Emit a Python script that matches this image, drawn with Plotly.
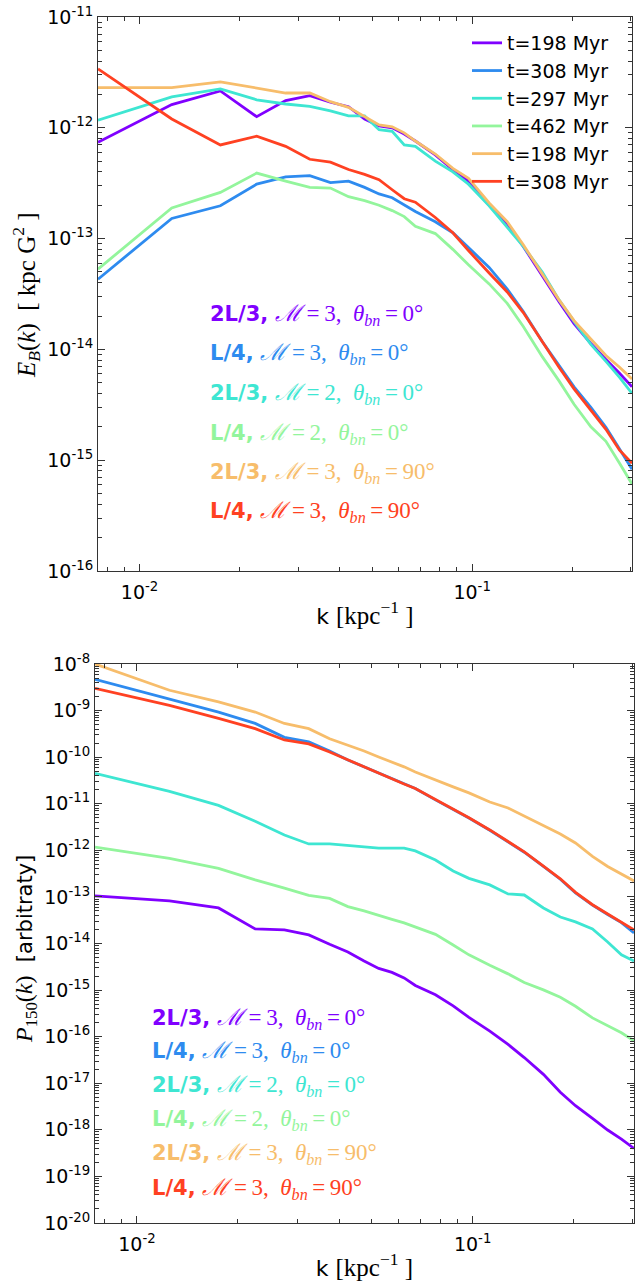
import plotly.graph_objects as go

# ---------------- data ----------------
k = [0.0075, 0.0125, 0.0175, 0.0225, 0.0275, 0.0325, 0.0375, 0.0425, 0.0475,
     0.0525, 0.0575, 0.0625, 0.0675, 0.0775, 0.0875, 0.0975, 0.1125, 0.1275,
     0.1425, 0.1625, 0.1825, 0.2025, 0.2275, 0.2525, 0.2775, 0.3025]

legend_names = ["t=198 Myr", "t=308 Myr", "t=297 Myr", "t=462 Myr", "t=198 Myr", "t=308 Myr"]
run_box = ["2L/3,", "L/4,", "2L/3,", "L/4,", "2L/3,", "L/4,"]
run_mach = ["3", "3", "2", "2", "3", "3"]
run_theta = ["0", "0", "0", "0", "90", "90"]

# tick labels (decade exponents)
x_tick_exp = [-2, -1]
eb_tick_exp = [-16, -15, -14, -13, -12, -11]
p_tick_exp = [-20, -19, -18, -17, -16, -15, -14, -13, -12, -11, -10, -9, -8]

# top panel: E_B(k)  [kpc G^2]
eb_purple = [7.4e-13, 1.62e-12, 2.15e-12, 1.26e-12, 1.76e-12, 1.95e-12, 1.70e-12, 1.55e-12, 1.2e-12,
             1.04e-12, 1.0e-12, 8.8e-13, 7.6e-13, 5.7e-13, 4.2e-13, 3.3e-13, 2.0e-13, 1.36e-13,
             8.5e-14, 4.6e-14, 2.7e-14, 1.71e-14, 1.13e-14, 8.1e-15, 6.1e-15, 4.6e-15]
eb_blue = [4.3e-14, 1.52e-13, 1.98e-13, 3.1e-13, 3.6e-13, 3.7e-13, 3.2e-13, 3.3e-13, 2.9e-13,
           2.53e-13, 2.34e-13, 2.0e-13, 1.76e-13, 1.42e-13, 1.13e-13, 8.3e-14, 5.5e-14, 3.5e-14,
           2.2e-14, 1.18e-14, 7.2e-15, 4.6e-15, 3.0e-15, 1.98e-15, 1.26e-15, 8.3e-16]
eb_cyan = [1.17e-12, 1.9e-12, 2.24e-12, 1.79e-12, 1.64e-12, 1.56e-12, 1.42e-12, 1.28e-12, 1.28e-12,
           9.6e-13, 9.3e-13, 7.0e-13, 6.8e-13, 5.0e-13, 4.0e-13, 3.1e-13, 1.98e-13, 1.26e-13,
           8.5e-14, 5.0e-14, 2.8e-14, 1.79e-14, 1.11e-14, 7.8e-15, 5.6e-15, 4.0e-15]
eb_green = [5.3e-14, 1.89e-13, 2.61e-13, 3.9e-13, 3.3e-13, 2.9e-13, 2.86e-13, 2.39e-13, 2.2e-13,
            2.0e-13, 1.79e-13, 1.58e-13, 1.29e-13, 1.11e-13, 8.0e-14, 5.8e-14, 3.9e-14, 2.6e-14,
            1.61e-14, 8.6e-15, 5.2e-15, 3.2e-15, 2.0e-15, 1.48e-15, 9.4e-16, 6.1e-16]
eb_orange = [2.3e-12, 2.3e-12, 2.6e-12, 2.28e-12, 2.06e-12, 2.06e-12, 1.72e-12, 1.53e-12, 1.26e-12,
             1.06e-12, 1.02e-12, 9.0e-13, 7.6e-13, 5.8e-13, 4.3e-13, 3.5e-13, 2.1e-13, 1.42e-13,
             8.8e-14, 4.8e-14, 2.8e-14, 1.82e-14, 1.23e-14, 8.8e-15, 6.9e-15, 5.4e-15]
eb_red = [3.4e-12, 1.2e-12, 7.0e-13, 8.4e-13, 6.8e-13, 5.2e-13, 4.9e-13, 4.2e-13, 3.8e-13,
          3.4e-13, 2.76e-13, 2.29e-13, 2.13e-13, 1.55e-13, 1.13e-13, 7.8e-14, 4.9e-14, 3.3e-14,
          2.15e-14, 1.16e-14, 6.9e-15, 4.4e-15, 2.8e-15, 1.9e-15, 1.23e-15, 9.4e-16]

# bottom panel: P_150(k)  [arbitrary]
p_purple = [1.05e-13, 8.2e-14, 5.8e-14, 2.06e-14, 1.96e-14, 1.53e-14, 9.6e-15, 6.6e-15, 4.2e-15,
            2.92e-15, 2.4e-15, 1.83e-15, 1.26e-15, 7.9e-16, 4.6e-16, 2.6e-16, 1.31e-16, 6.8e-17,
            3.56e-17, 1.55e-17, 6.4e-18, 3.3e-18, 1.77e-18, 9.9e-19, 6.3e-19, 4.0e-19]
p_blue = [4.7e-9, 1.77e-9, 9.3e-10, 5.3e-10, 2.67e-10, 2.12e-10, 1.36e-10, 8.7e-11, 6.2e-11,
          4.5e-11, 3.4e-11, 2.66e-11, 2.13e-11, 1.21e-11, 7.7e-12, 4.95e-12, 2.7e-12, 1.55e-12,
          9.1e-13, 4.5e-13, 2.4e-13, 1.22e-13, 6.7e-14, 4.2e-14, 2.8e-14, 1.69e-14]
p_cyan = [4.5e-11, 1.84e-11, 9.2e-12, 4.2e-12, 2.14e-12, 1.37e-12, 1.37e-12, 1.27e-12, 1.18e-12,
          1.11e-12, 1.11e-12, 1.11e-12, 9.7e-13, 6.2e-13, 3.6e-13, 2.5e-13, 1.81e-13, 1.16e-13,
          1.1e-13, 5.8e-14, 3.7e-14, 2.91e-14, 2.06e-14, 1.08e-14, 5.7e-15, 4.2e-15]
p_green = [1.17e-12, 6.7e-13, 4.1e-13, 2.32e-13, 1.54e-13, 1.08e-13, 9.3e-14, 6.2e-14, 5.0e-14,
           4.1e-14, 3.3e-14, 2.77e-14, 2.27e-14, 1.57e-14, 9.3e-15, 5.7e-15, 3.4e-15, 2.23e-15,
           1.46e-15, 1.01e-15, 7.0e-16, 4.5e-16, 2.53e-16, 1.75e-16, 1.21e-16, 8.1e-17]
p_orange = [1.0e-8, 2.73e-9, 1.53e-9, 9.3e-10, 5.3e-10, 4.1e-10, 2.48e-10, 1.83e-10, 1.36e-10,
            1.01e-10, 7.9e-11, 6.2e-11, 4.8e-11, 3.2e-11, 2.3e-11, 1.71e-11, 1.09e-11, 8.1e-12,
            5.5e-12, 3.4e-12, 2.25e-12, 1.44e-12, 7.4e-13, 4.5e-13, 3.1e-13, 2.2e-13]
p_red = [3.0e-9, 1.29e-9, 6.8e-10, 4.1e-10, 2.34e-10, 1.92e-10, 1.29e-10, 8.7e-11, 6.2e-11,
         4.5e-11, 3.4e-11, 2.66e-11, 2.13e-11, 1.23e-11, 7.8e-12, 5.0e-12, 2.74e-12, 1.58e-12,
         9.3e-13, 4.6e-13, 2.45e-13, 1.25e-13, 6.8e-14, 4.3e-14, 2.86e-14, 1.96e-14]

colors = ["#8000ff", "#2e8bef", "#3ee6d2", "#93f59c", "#f7bd6b", "#ff4122"]

eb_series = [eb_purple, eb_blue, eb_cyan, eb_green, eb_orange, eb_red]
p_series = [p_purple, p_blue, p_cyan, p_green, p_orange, p_red]

# ---------------- figure ----------------
W, H = 636, 1288
SANS = "DejaVu Sans"
SERIF = "Liberation Serif, DejaVu Serif, serif"


def dec_ticks(exps):
    vals = [10.0 ** e for e in exps]
    text = ["10<sup>%d</sup>" % e for e in exps]
    minor = [m * 10.0 ** e for e in range(exps[0] - 1, exps[-1] + 1) for m in range(2, 10)]
    return dict(tickmode="array", tickvals=vals, ticktext=text,
                minor=dict(ticks="inside", ticklen=4, tickcolor="#333", showgrid=False,
                           tickmode="array", tickvals=minor))


fig = go.Figure()
for i, ys in enumerate(eb_series):
    fig.add_trace(go.Scatter(x=k, y=ys, mode="lines", name=legend_names[i],
                             line=dict(color=colors[i], width=2.8),
                             xaxis="x", yaxis="y", showlegend=True))
for i, ys in enumerate(p_series):
    fig.add_trace(go.Scatter(x=k, y=ys, mode="lines", name=legend_names[i],
                             line=dict(color=colors[i], width=2.8),
                             xaxis="x2", yaxis="y2", showlegend=False))

axis_common = dict(
    type="log", showline=True, linecolor="#333", linewidth=1.2, mirror="allticks",
    ticks="inside", ticklen=7, tickwidth=1, tickcolor="#333",
    showgrid=False, zeroline=False,
    tickfont=dict(family=SANS, size=19, color="black"), automargin=False,
)

xr = [-2.1249, -0.5193]

def xtitle():
    return dict(text="k <span style='font-family:%s;font-size:25px'>[kpc<sup>\u22121</sup> ]</span>" % SERIF,
                font=dict(family=SANS, size=22, color="black"), standoff=6)

fig.update_layout(
    width=W, height=H, margin=dict(l=0, r=0, t=0, b=0),
    paper_bgcolor="white", plot_bgcolor="white",
    xaxis=dict(axis_common, **dec_ticks(x_tick_exp), domain=[98 / W, 632 / W], range=xr, anchor="y",
               ticklabelstandoff=4, title=xtitle()),
    yaxis=dict(axis_common, **dec_ticks(eb_tick_exp), domain=[1 - 571 / H, 1 - 17 / H],
               range=[-16, -11], anchor="x"),
    xaxis2=dict(axis_common, **dec_ticks(x_tick_exp), domain=[95 / W, 634 / W], range=xr, anchor="y2",
                ticklabelstandoff=4, title=xtitle()),
    yaxis2=dict(axis_common, **dec_ticks(p_tick_exp), domain=[1 - 1223 / H, 1 - 664 / H],
                range=[-20, -8], anchor="x2"),
    legend=dict(x=467 / W, y=1 - 24 / H, xanchor="left", yanchor="top",
                bgcolor="rgba(0,0,0,0)", borderwidth=0,
                font=dict(family=SANS, size=19, color="black")),
    showlegend=True,
)

# y-axis titles (placed like the reference's rotated labels)
fig.add_annotation(x=26 / W, y=1 - 295 / H, xref="paper", yref="paper", showarrow=False,
                   textangle=-90, xanchor="center", yanchor="middle",
                   text="<i>E<sub>B</sub></i>(<i>k</i>)  [ kpc G<sup>2</sup> ]",
                   font=dict(family=SERIF, size=25, color="black"))
fig.add_annotation(x=26 / W, y=1 - 949 / H, xref="paper", yref="paper", showarrow=False,
                   textangle=-90, xanchor="center", yanchor="middle",
                   text="<span style='font-family:%s;font-size:24px'><i>P</i><sub>150</sub>(<i>k</i>)</span>  [arbitraty]" % SERIF,
                   font=dict(family=SANS, size=21, color="black"))

# run labels inside both panels
top_rows = [315, 354, 394, 434, 473, 512]
bot_rows = [1019, 1052, 1086, 1120, 1154, 1189]
for i in range(6):
    txt = ("<b>%s</b> <span style='font-family:%s;font-size:23px'><i>\u2133</i>\u2009=\u2009%s,"
           "\u2002<i>\u03b8<sub>bn</sub></i>\u2009=\u2009%s\u00b0</span>") % (run_box[i], SERIF, run_mach[i], run_theta[i])
    for xl, yrow in ((208, top_rows[i]), (150, bot_rows[i])):
        fig.add_annotation(x=xl / W, y=1 - yrow / H, xref="paper", yref="paper",
                           xanchor="left", yanchor="middle", showarrow=False, text=txt,
                           font=dict(family=SANS, size=21, color=colors[i]))

fig.write_html("out.html", config={"displayModeBar": False},
               post_script="document.body.style.margin='0';document.body.style.overflow='hidden';")
